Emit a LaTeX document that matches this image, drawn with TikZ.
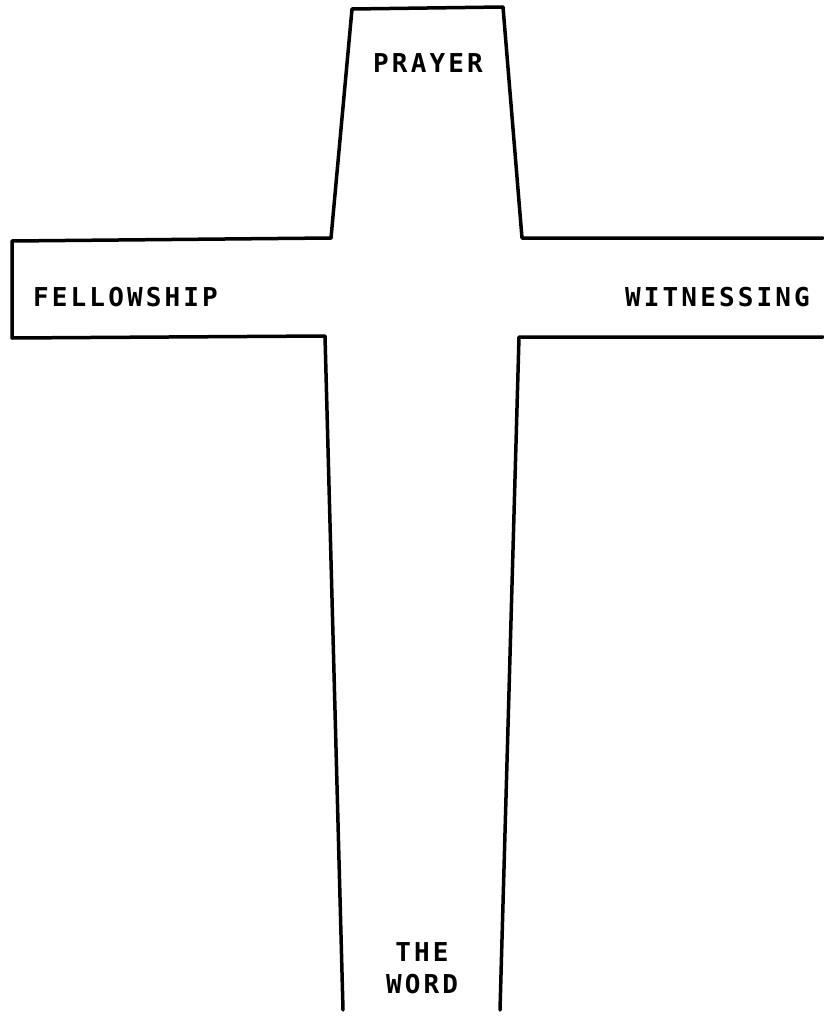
\documentclass[tikz,border=0pt]{standalone}
\usepackage{fontspec}
\newfontfamily\crossfont[LetterSpace=12]{DejaVu Sans Mono Bold}
\tikzset{
  crossline/.style={black, line width=3.5pt, line join=round, line cap=round},
  crosslabel/.style={font=\crossfont\fontsize{26}{32}\selectfont, inner sep=0pt}
}

\begin{document}
\begin{tikzpicture}[x=1pt, y=-1pt]
	\useasboundingbox (0,0) rectangle (823,1022);
	
	\draw[crossline] (331,238) -- (352,9) -- (503,7) -- (522,238) -- (823,238);
	\draw[crossline] (331,238) -- (12,241) -- (12,338) -- (325,336) -- (343,1010);
	\draw[crossline] (823,337) -- (519,337) -- (500,1010);
	
	\node[crosslabel] (prayer) at (428,63) {PRAYER};
	\node[crosslabel, anchor=west] (fellowship) at (33,297) {FELLOWSHIP};
	\node[crosslabel, anchor=east] (witnessing) at (810,297) {WITNESSING};
	\node[crosslabel, align=center] (word) at (422,968) {THE\\WORD};
	
\end{tikzpicture}
\end{document}
